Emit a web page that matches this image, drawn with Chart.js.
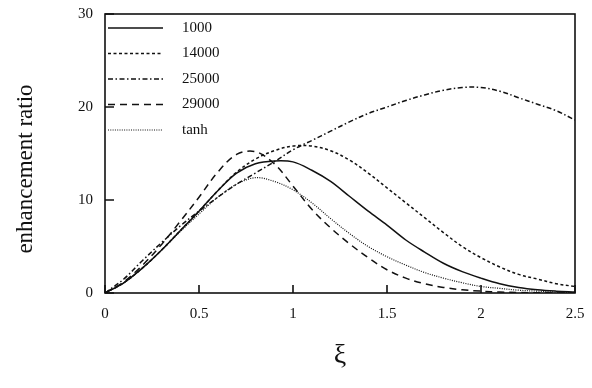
<!DOCTYPE html>
<html>
<head>
<meta charset="utf-8">
<script src="https://cdn.jsdelivr.net/npm/chart.js@4.4.1/dist/chart.umd.min.js"></script>
<style>
  html, body { margin: 0; padding: 0; background: #fff; }
  #wrap { width: 592px; height: 388px; }
</style>
</head>
<body>
<div id="wrap"><canvas id="c"></canvas></div>
<script>
// xi sample points
const xi = [0, 0.1, 0.2, 0.3, 0.4, 0.5, 0.6, 0.7, 0.8, 0.9, 1.0, 1.1, 1.2,
            1.3, 1.4, 1.5, 1.6, 1.7, 1.8, 1.9, 2.0, 2.1, 2.2, 2.3, 2.4, 2.5];

const r1000  = [0, 1.1, 2.7, 4.6, 6.7, 8.8, 11.0, 12.9, 13.9, 14.2, 14.1, 13.2, 12.0,
                10.4, 8.8, 7.3, 5.7, 4.4, 3.2, 2.3, 1.6, 1.0, 0.6, 0.35, 0.2, 0.1];
const r14000 = [0, 1.1, 2.7, 4.6, 6.7, 8.8, 11.0, 13.0, 14.4, 15.3, 15.8, 15.8, 15.3,
                14.3, 12.9, 11.3, 9.7, 8.1, 6.5, 5.0, 3.8, 2.8, 2.0, 1.5, 1.0, 0.7];
const r25000 = [0, 1.5, 3.5, 5.4, 7.2, 8.8, 10.3, 11.7, 12.9, 14.1, 15.4, 16.4, 17.4,
                18.4, 19.3, 20.0, 20.7, 21.3, 21.8, 22.1, 22.1, 21.7, 21.0, 20.3, 19.6, 18.6];
const r29000 = [0, 1.2, 3.0, 5.2, 7.7, 10.3, 13.0, 14.9, 15.2, 13.9, 11.5, 9.0, 7.0,
                5.3, 3.8, 2.5, 1.6, 1.0, 0.6, 0.35, 0.2, 0.1, 0.05, 0.02, 0.01, 0];
const rTanh  = [0, 1.1, 2.7, 4.6, 6.6, 8.5, 10.3, 11.7, 12.4, 12.0, 11.1, 9.7, 8.0,
                6.4, 5.0, 3.9, 3.0, 2.2, 1.6, 1.1, 0.7, 0.5, 0.3, 0.2, 0.1, 0.05];

const seriesNames = ['1000', '14000', '25000', '29000', 'tanh'];
const xTicks = [0, 0.5, 1, 1.5, 2, 2.5];
const yTicks = [0, 10, 20, 30];

const FONT = "'Liberation Serif', 'DejaVu Serif', serif";

function pts(ys) {
    return xi.map((x, i) => ({ x: x, y: ys[i] }));
}

const styles = [
    { dash: [], width: 1.5 },
    { dash: [3, 2.5], width: 1.5 },
    { dash: [5, 2.5, 1.5, 2.5], width: 1.5 },
    { dash: [7, 5], width: 1.5 },
    { dash: [1, 1.3], width: 1.2 }
];

const datasets = [r1000, r14000, r25000, r29000, rTanh].map((ys, i) => ({
    label: seriesNames[i],
    data: pts(ys),
    borderColor: '#111',
    borderWidth: styles[i].width,
    borderDash: styles[i].dash,
    pointRadius: 0,
    tension: 0.35,
    fill: false
}));

// frame, inward ticks, legend and axis titles
const decor = {
    id: 'decor',
    afterDraw(chart) {
        const ctx = chart.ctx;
        const a = chart.chartArea;
        const xs = chart.scales.x, ys = chart.scales.y;
        ctx.save();
        ctx.strokeStyle = '#111';
        ctx.lineWidth = 1.6;
        ctx.setLineDash([]);
        ctx.strokeRect(a.left, a.top, a.right - a.left, a.bottom - a.top);

        ctx.beginPath();
        xTicks.forEach(v => {
            const px = xs.getPixelForValue(v);
            ctx.moveTo(px, a.bottom);
            ctx.lineTo(px, a.bottom - 8);
        });
        yTicks.forEach(v => {
            const py = ys.getPixelForValue(v);
            ctx.moveTo(a.left, py);
            ctx.lineTo(a.left + 9, py);
        });
        ctx.stroke();

        // legend
        ctx.font = '15px ' + FONT;
        ctx.fillStyle = '#111';
        ctx.textBaseline = 'middle';
        chart.data.datasets.forEach((ds, i) => {
            const y = a.top + 14 + i * 25.5;
            ctx.beginPath();
            ctx.lineWidth = ds.borderWidth;
            ctx.setLineDash(ds.borderDash);
            ctx.moveTo(a.left + 3, y);
            ctx.lineTo(a.left + 58, y);
            ctx.stroke();
            ctx.fillText(ds.label, a.left + 77, y);
        });

        // axis titles
        ctx.setLineDash([]);
        ctx.textAlign = 'center';
        ctx.font = '28px ' + FONT;
        ctx.fillText('\u03be', (a.left + a.right) / 2, 356);

        ctx.translate(26, 169);
        ctx.rotate(-Math.PI / 2);
        ctx.font = '23px ' + FONT;
        ctx.fillText('enhancement ratio', 0, 0);
        ctx.restore();
    }
};

new Chart(document.getElementById('c'), {
    type: 'line',
    data: { datasets: datasets },
    options: {
        responsive: true,
        maintainAspectRatio: false,
        animation: false,
        layout: { padding: { top: 14, right: 17, left: 0, bottom: 0 } },
        plugins: {
            legend: { display: false },
            tooltip: { enabled: false }
        },
        scales: {
            x: {
                type: 'linear',
                min: 0,
                max: 2.5,
                afterFit: s => { s.height = 95; s.paddingLeft = 0; s.paddingRight = 0; },
                afterBuildTicks: s => { s.ticks = xTicks.map(v => ({ value: v })); },
                grid: { display: false, drawTicks: false },
                border: { display: false },
                ticks: {
                    padding: 12,
                    color: '#111',
                    font: { family: FONT, size: 15 },
                    maxRotation: 0,
                    callback: v => String(v)
                }
            },
            y: {
                min: 0,
                max: 30,
                afterFit: s => { s.width = 105; s.paddingTop = 0; s.paddingBottom = 0; },
                afterBuildTicks: s => { s.ticks = yTicks.map(v => ({ value: v })); },
                grid: { display: false, drawTicks: false },
                border: { display: false },
                ticks: {
                    padding: 12,
                    color: '#111',
                    font: { family: FONT, size: 15 },
                    callback: v => String(v)
                }
            }
        }
    },
    plugins: [decor]
});
</script>
</body>
</html>
